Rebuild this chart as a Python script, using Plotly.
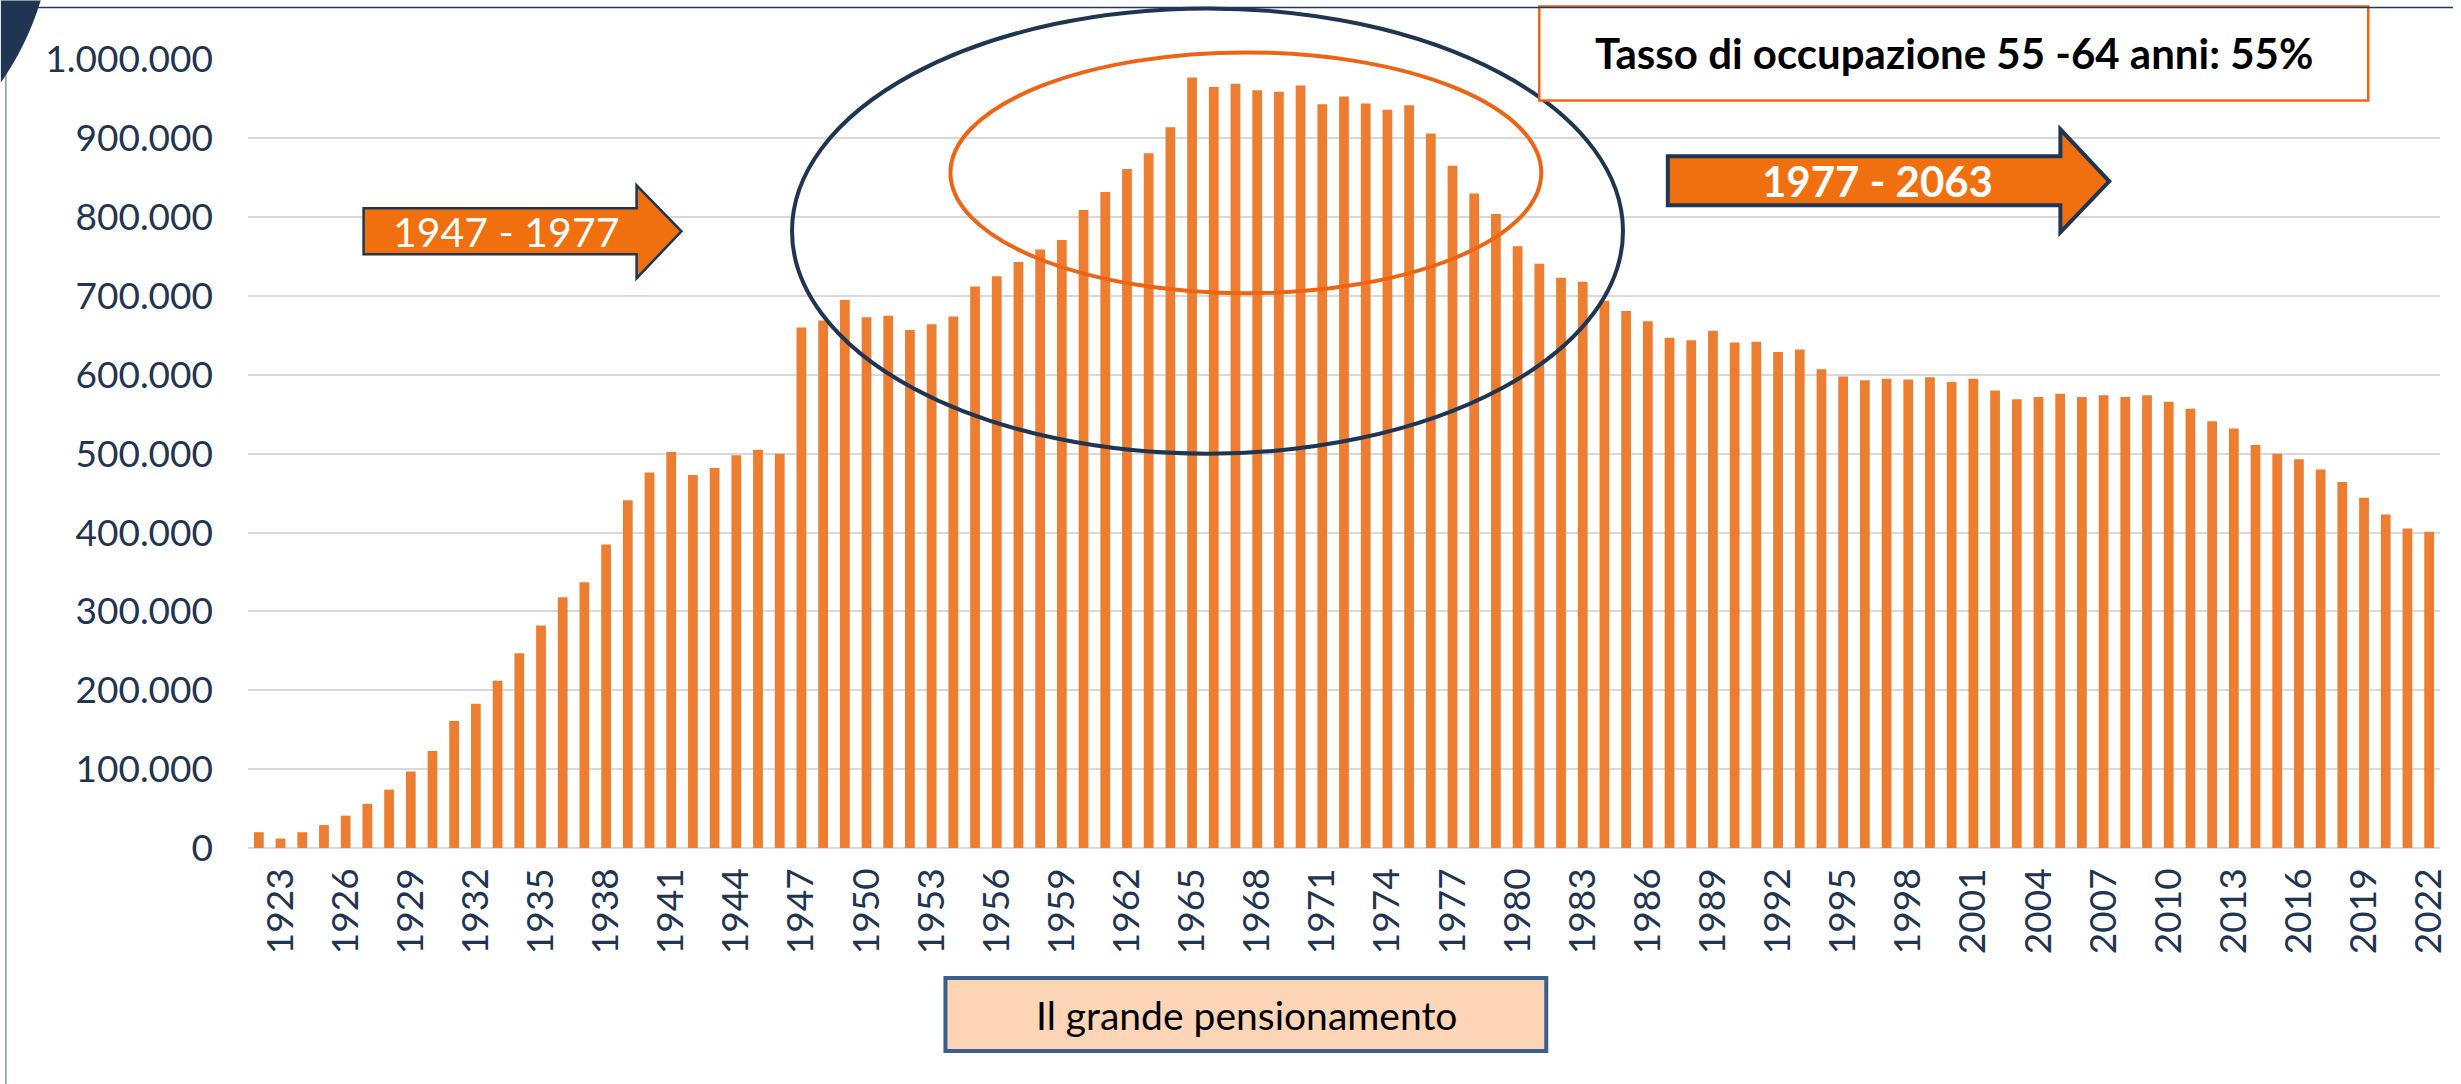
import plotly.graph_objects as go

# ---- data ----
years = list(range(1922, 2023))
values = [
    20000, 12000, 20000, 29000, 41000, 56000, 74000, 97000, 123000, 161000,
    183000, 212000, 247000, 282000, 318000, 337000, 385000, 441000, 476000, 502000,
    473000, 482000, 498000, 505000, 500000, 660000, 669000, 695000, 673000, 675000,
    657000, 664000, 674000, 712000, 725000, 743000, 759000, 771000, 809000, 832000,
    861000, 881000, 914000, 977000, 965000, 969000, 961000, 959000, 967000, 943000,
    953000, 944000, 936000, 942000, 906000, 865000, 830000, 804000, 763000, 741000,
    723000, 718000, 694000, 681000, 668000, 647000, 644000, 656000, 641000, 642000,
    629000, 632000, 607000, 598000, 593000, 595000, 594000, 597000, 591000, 595000,
    580000, 569000, 572000, 576000, 572000, 574000, 572000, 574000, 566000, 557000,
    541000, 532000, 511000, 500000, 493000, 480000, 464000, 444000, 423000, 405000,
    401000,
]
tick_years = years[1::3]
tick_labels = [str(y) for y in tick_years]

title_box_text = "Tasso di occupazione 55 -64 anni: 55%"
arrow1_text = "1947 - 1977"
arrow2_text = "1977 - 2063"
bottom_text = "Il grande pensionamento"

# ---- layout geometry (pixels) ----
W, H = 2461, 1084
L, R, T, B = 248, 2448, 58.6, 848

def px(x):
    return (x - L) / (R - L)

def py(y):
    return (B - y) / (B - T)

def path(points):
    return "M " + " L ".join(f"{px(x):.5f},{py(y):.5f}" for x, y in points) + " Z"

NAVY = "#1F3552"
ORANGE_LINE = "#EF6413"
BAR = "#ED7D31"
ARROW_FILL = "#F0700F"

fig = go.Figure()
fig.add_trace(go.Bar(x=years, y=values, marker=dict(color=BAR, line=dict(width=0)),
                     showlegend=False))

shapes = []
shapes.append(dict(type="circle", xref="paper", yref="paper",
                   x0=px(794), x1=px(1628), y0=py(453.5), y1=py(8),
                   line=dict(color=NAVY, width=4), layer="above"))
shapes.append(dict(type="circle", xref="paper", yref="paper",
                   x0=px(953), x1=px(1546), y0=py(293), y1=py(52),
                   line=dict(color=ORANGE_LINE, width=4), layer="above"))
shapes.append(dict(type="rect", xref="paper", yref="paper",
                   x0=px(1544), x1=px(2376), y0=py(100), y1=py(6),
                   fillcolor="white", line=dict(color=ORANGE_LINE, width=2.5), layer="above"))
shapes.append(dict(type="path", xref="paper", yref="paper",
                   path=path([(364, 208), (638, 208), (638, 185), (683, 231),
                              (638, 278), (638, 254), (364, 254)]),
                   fillcolor=ARROW_FILL, line=dict(color=NAVY, width=2.5), layer="above"))
shapes.append(dict(type="path", xref="paper", yref="paper",
                   path=path([(1673, 156), (2067, 156), (2067, 129), (2116, 181),
                              (2067, 232), (2067, 205), (1673, 205)]),
                   fillcolor=ARROW_FILL, line=dict(color=NAVY, width=4), layer="above"))
shapes.append(dict(type="rect", xref="paper", yref="paper",
                   x0=px(948), x1=px(1551), y0=py(1051), y1=py(978),
                   fillcolor="#FBD5B5", line=dict(color="#3B5E8C", width=4), layer="above"))
shapes.append(dict(type="line", xref="paper", yref="paper",
                   x0=px(5), x1=px(W), y0=py(7), y1=py(7),
                   line=dict(color="#1F3864", width=1.5), layer="above"))
shapes.append(dict(type="line", xref="paper", yref="paper",
                   x0=px(5), x1=px(5), y0=py(7), y1=py(H),
                   line=dict(color="#8496B0", width=1.5), layer="above"))
shapes.append(dict(type="path", xref="paper", yref="paper",
                   path="M {:.5f},{:.5f} L {:.5f},{:.5f} Q {:.5f},{:.5f} {:.5f},{:.5f} Z".format(
                       px(0), py(0), px(40), py(0), px(26), py(45), px(0), py(82)),
                   fillcolor=NAVY, line=dict(width=0), layer="above"))

annotations = [
    dict(text="<b>" + title_box_text + "</b>", x=px(1960), y=py(53), xref="paper", yref="paper",
         showarrow=False, xanchor="center", yanchor="middle",
         font=dict(family="Lato", size=42, color="black")),
    dict(text=arrow1_text, x=px(507), y=py(231), xref="paper", yref="paper",
         showarrow=False, xanchor="center", yanchor="middle",
         font=dict(family="Lato", size=41, color="white")),
    dict(text="<b>" + arrow2_text + "</b>", x=px(1883), y=py(181), xref="paper", yref="paper",
         showarrow=False, xanchor="center", yanchor="middle",
         font=dict(family="Lato", size=42, color="white")),
    dict(text=bottom_text, x=px(1250), y=py(1015), xref="paper", yref="paper",
         showarrow=False, xanchor="center", yanchor="middle",
         font=dict(family="Lato", size=39, color="black")),
]

fig.update_layout(
    width=W, height=H,
    margin=dict(l=L, r=W - R, t=T, b=H - B, pad=0),
    paper_bgcolor="white", plot_bgcolor="white",
    separators=",.",
    bargap=0.55,
    shapes=shapes,
    annotations=annotations,
    xaxis=dict(range=[1921.5, 2022.5], tickmode="array", tickvals=tick_years,
               ticktext=tick_labels, tickangle=-90, showgrid=False, ticks="",
               ticklabelstandoff=12, showline=False, zeroline=False,
               tickfont=dict(family="Lato", size=37, color="#1F3552")),
    yaxis=dict(range=[0, 1000500], dtick=100000, tickformat=",d",
               showgrid=True, gridcolor="#D9D9D9", gridwidth=2,
               zeroline=True, zerolinecolor="#D9D9D9", zerolinewidth=2,
               ticks="", ticklabelstandoff=34, showline=False,
               tickfont=dict(family="Lato", size=37, color="#1F3552")),
)

fig.write_html("out.html", config={"displayModeBar": False},
               post_script="document.body.style.margin='0';document.body.style.overflow='hidden';")
